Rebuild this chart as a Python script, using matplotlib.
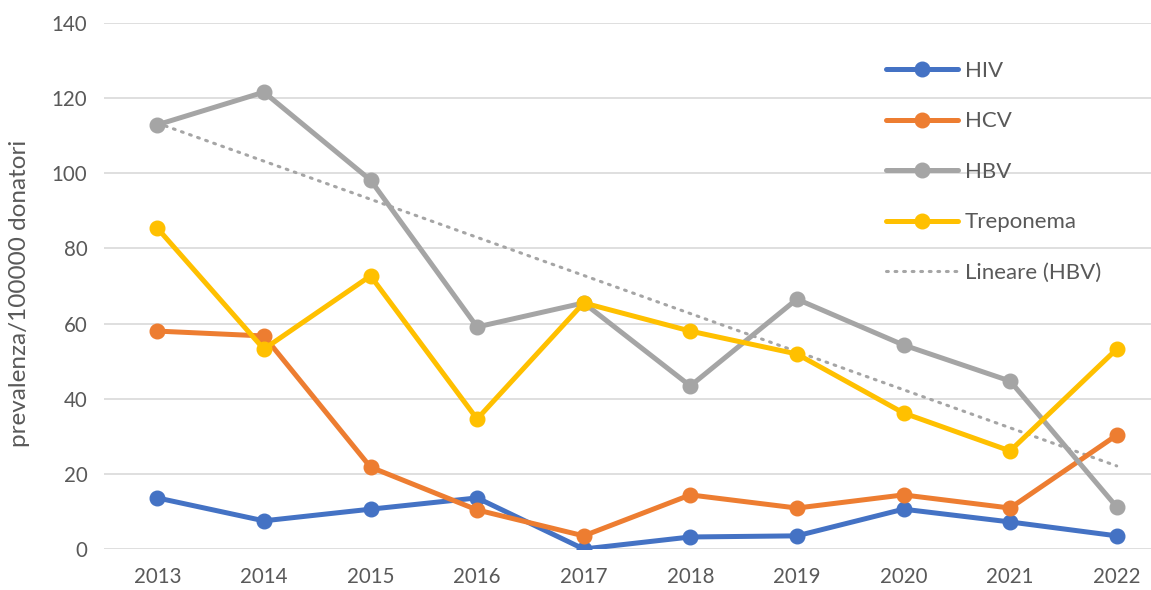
import matplotlib
matplotlib.use("Agg")
import matplotlib.pyplot as plt
import numpy as np

years = ["2013", "2014", "2015", "2016", "2017", "2018", "2019", "2020", "2021", "2022"]
hiv = [13.6, 7.5, 10.6, 13.6, 0.0, 3.2, 3.5, 10.6, 7.2, 3.5]
hcv = [58.0, 56.7, 21.8, 10.4, 3.5, 14.4, 10.9, 14.4, 10.9, 30.3]
hbv = [112.9, 121.6, 98.2, 59.1, 65.5, 43.4, 66.5, 54.3, 44.7, 11.2]
treponema = [85.4, 53.2, 72.7, 34.6, 65.5, 58.0, 51.9, 36.2, 26.1, 53.2]
series_names = ["HIV", "HCV", "HBV", "Treponema"]
trend_name = "Lineare (HBV)"
ylabel = "prevalenza/100000 donatori"
yticks = [0, 20, 40, 60, 80, 100, 120, 140]

colors = ["#4472C4", "#ED7D31", "#A5A5A5", "#FFC000"]
textcol = "#595959"

plt.rcParams['font.family'] = ['Lato', 'DejaVu Sans']

W, H = 1151, 590
fig = plt.figure(figsize=(W/100, H/100), dpi=100)
left, right = 104, 1170
top, bottom = 23, 549
ax = fig.add_axes([left/W, 1 - bottom/H, (right-left)/W, (bottom-top)/H])

x = np.arange(len(years))
for vals, name, c in zip([hiv, hcv, hbv, treponema], series_names, colors):
    ax.plot(x, vals, color=c, lw=3.6, marker="o", ms=10.5, label=name, zorder=3,
            solid_capstyle="round", solid_joinstyle="round")

coef = np.polyfit(x, hbv, 1)
ax.plot(x, np.polyval(coef, x), color="#A5A5A5", lw=2.2, ls=(0, (0.6, 2.2)),
        dash_capstyle="round", label=trend_name, zorder=2)

ax.set_xlim(-0.5, 9.5)
ax.set_ylim(0, 140)
ax.set_yticks(yticks)
ax.set_xticks(x)
ax.set_xticklabels(years)
ax.grid(axis="y", color="#D9D9D9", lw=1.2)
ax.set_axisbelow(True)
for s in ax.spines.values():
    s.set_visible(False)
ax.tick_params(length=0, labelsize=14.8, colors=textcol)
ax.tick_params(axis="x", pad=13)
ax.tick_params(axis="y", pad=12)
ax.patch.set_alpha(0)
fig.text(20/W, 1 - 293/H, ylabel, rotation=90, ha="center", va="center",
         fontsize=17.5, color=textcol)

leg = ax.legend(loc="upper left", bbox_to_anchor=((886-left)/(right-left), (bottom-61)/(bottom-top)),
                frameon=False, fontsize=16, labelcolor=textcol, handlelength=3.25,
                labelspacing=1.37, handletextpad=0.3, borderaxespad=0, borderpad=0)
for t in leg.get_texts():
    t.set_color(textcol)

fig.savefig("out.png", dpi=100)
